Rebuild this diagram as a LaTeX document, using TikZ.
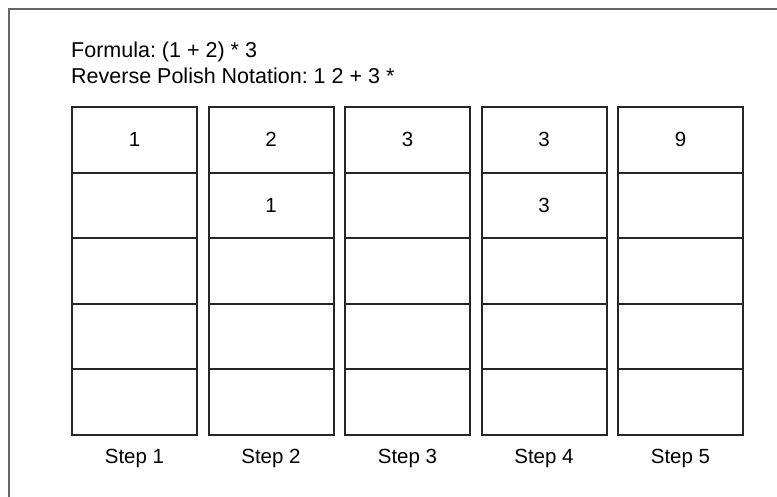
\documentclass[tikz,border=0pt]{standalone}
\usepackage{fontspec}
\setmainfont{Liberation Sans}
\frenchspacing
\begin{document}
\begin{tikzpicture}[x=1pt,y=-1pt,
  cell/.style={draw=black!85,line width=2pt,minimum width=125pt,minimum height=65.6pt,inner sep=0pt,font=\fontsize{20.5}{24}\selectfont},
  steplabel/.style={anchor=base,inner sep=0pt,font=\fontsize{20.5}{24}\selectfont},
  headtext/.style={anchor=base west,inner sep=0pt,font=\fontsize{21.5}{25}\selectfont}]
\useasboundingbox (0,0) rectangle (777,497);
\draw[line width=2pt,draw=black!60] (9,497) -- (9,9) -- (777,9);
\node[headtext] (f1) at (71,58) {Formula: (1 + 2) * 3};
\node[headtext] (f2) at (71,84) {Reverse Polish Notation: 1 2 + 3 *};
\foreach \c/\l in {1/{1,,,,},2/{2,1,,,},3/{3,,,,},4/{3,3,,,},5/{9,,,,}}{
  \pgfmathsetmacro\xc{72+136.5*(\c-1)+62.5}
  \foreach \t [count=\r] in \l {
    \node[cell] (c\c r\r) at (\xc,{107+65.6*(\r-1)+32.8}) {\t};
  }
  \node[steplabel] (s\c) at (\xc,463) {Step \c};
}
\end{tikzpicture}
\end{document}
